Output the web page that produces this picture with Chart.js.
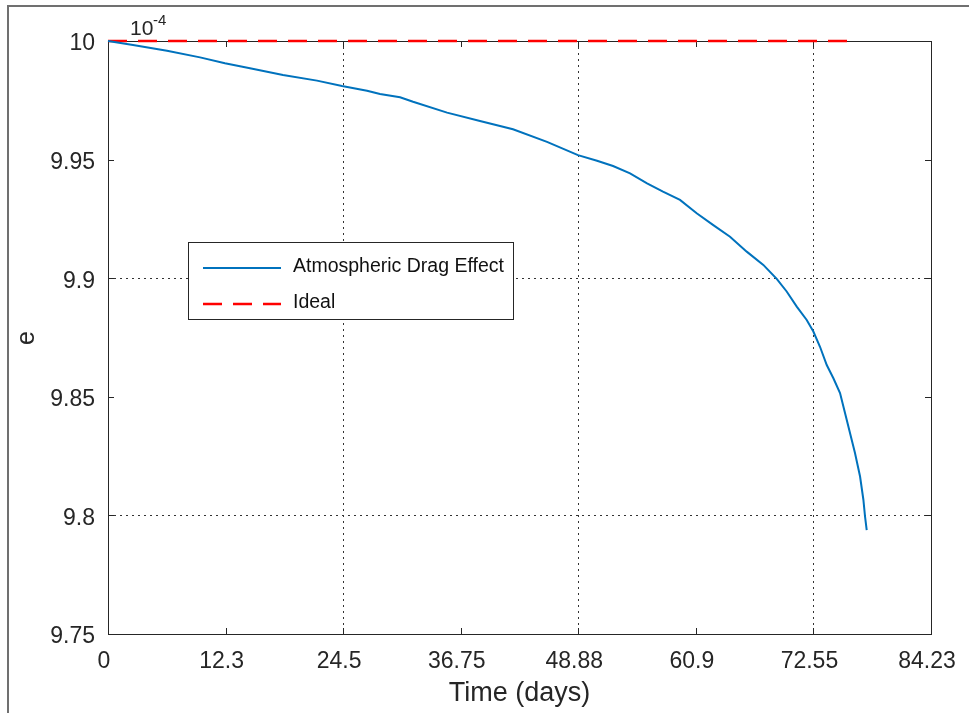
<!DOCTYPE html>
<html>
<head>
<meta charset="utf-8">
<script src="https://cdn.jsdelivr.net/npm/chart.js@4/dist/chart.umd.min.js"></script>
<style>
  body { margin: 0; background: #fff; }
  #wrap { width: 969px; height: 713px; }
</style>
</head>
<body>
<div id="wrap"><canvas id="chart" width="969" height="713"></canvas></div>
<script>
// tick labels as printed on the axes (x ticks are evenly spaced)
const xTickLabels = ["0", "12.3", "24.5", "36.75", "48.88", "60.9", "72.55", "84.23"];
const xMax = 84.23;
const yTicks = [9.75, 9.8, 9.85, 9.9, 9.95, 10];

// eccentricity (x 1e-4)
const dragDays = [0, 2.56, 6.04, 9.42, 11.97, 14.53, 17.91, 21.39, 23.95, 26.51, 27.84, 29.89,
  31.22, 34.7, 38.07, 41.45, 44.93, 48.1, 50.05, 51.69, 53.43, 55.17, 56.8, 58.54, 60.25,
  61.95, 63.66, 65.37, 67.07, 68.44, 69.46, 70.49, 71.51, 72.19, 72.87, 73.56, 74.24,
  74.92, 75.43, 75.94, 76.45, 76.97, 77.31, 77.48, 77.65];
const dragE = [10, 9.9983, 9.9959, 9.9931, 9.9906, 9.9885, 9.9857, 9.9833, 9.981, 9.979, 9.9777,
  9.9763, 9.9744, 9.9698, 9.9663, 9.9628, 9.9575, 9.9519, 9.9495, 9.9473, 9.9442, 9.94,
  9.9365, 9.933, 9.9274, 9.9224, 9.9175, 9.9112, 9.9056, 9.8997, 9.8944, 9.888, 9.8824,
  9.8775, 9.8711, 9.8634, 9.8578, 9.8516, 9.8432, 9.8347, 9.8263, 9.8164, 9.8066,
  9.7995, 9.7938];

const idealDays = [0, 76];
const idealE = [10, 10];

const axisColor = "#262626";
const font = "'Liberation Sans', Arial, sans-serif";

Chart.defaults.font.family = font;
Chart.defaults.color = axisColor;

function toPoints(xs, ys) {
  return xs.map((x, i) => ({ x: x, y: ys[i] }));
}

// figure frame, axes box, inward ticks, legend and titles
const matlabLook = {
  id: "matlabLook",
  beforeDraw(chart) {
    const ctx = chart.ctx;
    ctx.save();
    ctx.fillStyle = "#fff";
    ctx.fillRect(0, 0, chart.width, chart.height);
    ctx.strokeStyle = "#707070";
    ctx.lineWidth = 2;
    ctx.beginPath();
    ctx.moveTo(8, chart.height);
    ctx.lineTo(8, 6);
    ctx.lineTo(chart.width, 6);
    ctx.stroke();
    ctx.restore();
  },
  beforeDatasetsDraw(chart) {
    const ctx = chart.ctx;
    const a = chart.chartArea;
    const xs = chart.scales.x, ys = chart.scales.y;
    ctx.save();
    ctx.strokeStyle = axisColor;
    ctx.lineWidth = 1;
    ctx.strokeRect(a.left + 0.5, a.top + 0.5, a.right - a.left, a.bottom - a.top);
    ctx.beginPath();
    xs.ticks.forEach((t) => {
      const px = Math.round(xs.getPixelForValue(t.value)) + 0.5;
      ctx.moveTo(px, a.bottom); ctx.lineTo(px, a.bottom - 6);
      ctx.moveTo(px, a.top); ctx.lineTo(px, a.top + 6);
    });
    ys.ticks.forEach((t) => {
      const py = Math.round(ys.getPixelForValue(t.value)) + 0.5;
      ctx.moveTo(a.left, py); ctx.lineTo(a.left + 6, py);
      ctx.moveTo(a.right, py); ctx.lineTo(a.right - 6, py);
    });
    ctx.stroke();
    ctx.restore();
  },
  afterDraw(chart) {
    const ctx = chart.ctx;
    const a = chart.chartArea;
    ctx.save();

    // exponent
    ctx.fillStyle = axisColor;
    ctx.textBaseline = "alphabetic";
    ctx.textAlign = "left";
    ctx.font = "21px " + font;
    ctx.fillText("10", 130, 35);
    ctx.font = "15px " + font;
    ctx.fillText("-4", 153, 25);

    // axis titles
    ctx.font = "27px " + font;
    ctx.textAlign = "center";
    ctx.fillText("Time (days)", (a.left + a.right) / 2, 701);
    ctx.save();
    ctx.translate(34, 338);
    ctx.rotate(-Math.PI / 2);
    ctx.font = "25px " + font;
    ctx.fillText("e", 0, 0);
    ctx.restore();

    // legend
    const lx = 188, ly = 242, lw = 325, lh = 77;
    ctx.fillStyle = "#fff";
    ctx.fillRect(lx, ly, lw, lh);
    ctx.strokeStyle = axisColor;
    ctx.lineWidth = 1;
    ctx.strokeRect(lx + 0.5, ly + 0.5, lw, lh);
    const rows = [268, 304];
    chart.data.datasets.forEach((ds, i) => {
      const y = rows[i];
      ctx.save();
      ctx.strokeStyle = ds.borderColor;
      ctx.lineWidth = ds.borderWidth;
      ctx.setLineDash(ds.borderDash || []);
      ctx.beginPath();
      ctx.moveTo(203, y);
      ctx.lineTo(281, y);
      ctx.stroke();
      ctx.restore();
      ctx.fillStyle = "#111";
      ctx.font = "19.5px " + font;
      ctx.textAlign = "left";
      ctx.textBaseline = "middle";
      ctx.fillText(ds.label, 293, y - 1);
    });
    ctx.restore();
  }
};

new Chart(document.getElementById("chart"), {
  type: "line",
  data: {
    datasets: [
      {
        label: "Atmospheric Drag Effect",
        data: toPoints(dragDays, dragE),
        borderColor: "#0072BD",
        borderWidth: 2,
        pointRadius: 0,
        tension: 0,
        clip: false
      },
      {
        label: "Ideal",
        data: toPoints(idealDays, idealE),
        borderColor: "#FF0000",
        borderWidth: 2.5,
        borderDash: [19, 11],
        pointRadius: 0,
        tension: 0,
        clip: false
      }
    ]
  },
  options: {
    responsive: false,
    animation: false,
    devicePixelRatio: 1,
    layout: { padding: { top: 41, right: 38, left: 0, bottom: 0 } },
    plugins: { legend: { display: false }, tooltip: { enabled: false } },
    scales: {
      x: {
        type: "linear",
        min: 0,
        max: xMax,
        afterBuildTicks: (s) => {
          s.ticks = xTickLabels.map((_, i) => ({ value: (i * xMax) / (xTickLabels.length - 1) }));
        },
        afterFit: (s) => {
          s.height = 79;
          s.paddingLeft = 0;
          s.paddingRight = 0;
        },
        ticks: {
          autoSkip: false,
          maxRotation: 0,
          padding: 14,
          labelOffset: -4,
          font: { size: 23 },
          color: axisColor,
          callback: (v, i) => xTickLabels[i]
        },
        grid: {
          drawTicks: false,
          lineWidth: 1,
          color: (c) => ([2, 4, 6].includes(c.index) ? "#333" : "rgba(0,0,0,0)")
        },
        border: { display: false, dash: [2, 4] }
      },
      y: {
        min: 9.75,
        max: 10,
        afterBuildTicks: (s) => { s.ticks = yTicks.map((v) => ({ value: v })); },
        afterFit: (s) => {
          s.width = 108;
          s.paddingTop = 0;
          s.paddingBottom = 0;
        },
        ticks: {
          padding: 13,
          labelOffset: 3,
          font: { size: 23 },
          color: axisColor,
          callback: (v) => String(v)
        },
        grid: {
          drawTicks: false,
          lineWidth: 1,
          color: (c) => ([1, 3, 5].includes(c.index) ? "#333" : "rgba(0,0,0,0)")
        },
        border: { display: false, dash: [2, 4] }
      }
    }
  },
  plugins: [matlabLook]
});
</script>
</body>
</html>
